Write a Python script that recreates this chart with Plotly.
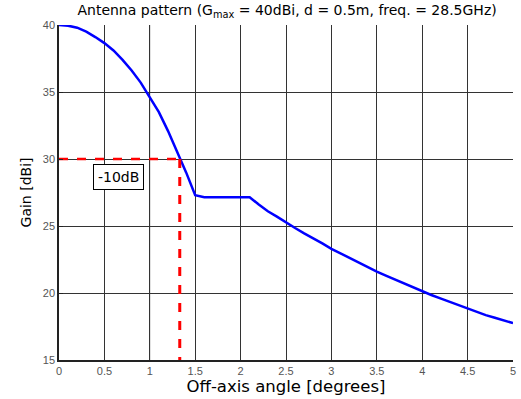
import plotly.graph_objects as go

angle = [0.0, 0.1, 0.2, 0.3, 0.4, 0.5, 0.6, 0.7, 0.8, 0.9, 1.0, 1.1, 1.2, 1.3, 1.4, 1.5,
         1.6, 1.7, 1.8, 1.9, 2.0, 2.1, 2.2, 2.3, 2.4, 2.5, 2.6, 2.7, 2.8, 2.9, 3.0,
         3.1, 3.2, 3.3, 3.4, 3.5, 3.6, 3.7, 3.8, 3.9, 4.0, 4.1, 4.2, 4.3, 4.4, 4.5,
         4.6, 4.7, 4.8, 4.9, 5.0]
gain = [40.0, 39.95, 39.8, 39.5, 39.1, 38.65, 38.1, 37.4, 36.6, 35.7, 34.6, 33.5, 32.1, 30.6, 29.0, 27.3,
        27.15, 27.15, 27.15, 27.15, 27.15, 27.15, 26.6, 26.1, 25.7, 25.25, 24.85, 24.45, 24.1, 23.7, 23.3,
        22.95, 22.6, 22.25, 21.9, 21.6, 21.3, 21.0, 20.7, 20.4, 20.1, 19.85, 19.6, 19.35, 19.05, 18.8,
        18.6, 18.35, 18.15, 17.95, 17.75]

gmax = 40
drop_db = 10
beam_edge_angle = 1.33
x_ticks = [0, 0.5, 1, 1.5, 2, 2.5, 3, 3.5, 4, 4.5, 5]
x_tick_labels = ["0", "0.5", "1", "1.5", "2", "2.5", "3", "3.5", "4", "4.5", "5"]
y_ticks = [15, 20, 25, 30, 35, 40]

TF = "DejaVu Sans, Liberation Sans, Arial"

fig = go.Figure()
fig.add_trace(go.Scatter(x=angle, y=gain, mode="lines",
                         line=dict(color="#0000ff", width=2.5), showlegend=False))
fig.add_trace(go.Scatter(x=[0, beam_edge_angle], y=[gmax - drop_db, gmax - drop_db], mode="lines",
                         line=dict(color="#ff0000", width=2.5, dash="dash"), showlegend=False))
fig.add_trace(go.Scatter(x=[beam_edge_angle, beam_edge_angle], y=[gmax - drop_db, 15], mode="lines",
                         line=dict(color="#ff0000", width=3, dash="dash"), showlegend=False))

fig.add_annotation(x=0.65, y=28.66, text="-10dB", showarrow=False,
                   font=dict(family=TF, size=14, color="black"),
                   bordercolor="black", borderwidth=1, borderpad=4, bgcolor="white")

fig.update_layout(
    width=521, height=399,
    margin=dict(l=59, r=5, t=25, b=39),
    paper_bgcolor="white", plot_bgcolor="white",
    font=dict(family="Liberation Sans, Arial", color="black"),
    title=dict(text="Antenna pattern (G<sub>max</sub> = 40dBi, d = 0.5m, freq. = 28.5GHz)",
               x=0.551, xanchor="center", y=0.975, yanchor="middle",
               font=dict(family=TF, size=14, color="black")),
    xaxis=dict(range=[0, 5], tickvals=x_ticks, ticktext=x_tick_labels,
               showgrid=True, gridcolor="#333333", gridwidth=1,
               showline=True, linecolor="#222222", linewidth=1.5, mirror=False,
               ticks="", tickfont=dict(size=11, color="#555555"),
               title=dict(text="Off-axis angle [degrees]", font=dict(family=TF, size=16.5, color="black"), standoff=0),
               zeroline=False),
    yaxis=dict(range=[15, 40], tickvals=y_ticks,
               showgrid=True, gridcolor="#333333", gridwidth=1,
               showline=True, linecolor="#222222", linewidth=1.5, mirror=False,
               ticks="inside", ticklen=4, tickcolor="#222222",
               tickfont=dict(size=11, color="#555555"),
               title=dict(text="Gain [dBi]", font=dict(family=TF, size=14, color="black"), standoff=8),
               zeroline=False),
)
fig.add_shape(type="line", xref="x", yref="paper", x0=1, x1=1, y0=0, y1=1,
              line=dict(color="#c8c8c8", width=1.5), layer="below")

fig.write_html("out.html")
